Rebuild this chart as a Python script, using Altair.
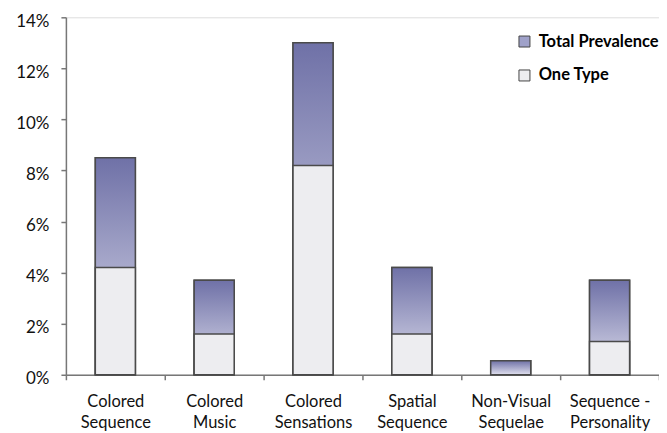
import altair as alt
import pandas as pd

categories = ["Colored\nSequence", "Colored\nMusic", "Colored\nSensations",
              "Spatial\nSequence", "Non-Visual\nSequelae", "Sequence -\nPersonality"]
total_prevalence = [0.085, 0.037, 0.130, 0.042, 0.0055, 0.037]
one_type = [0.042, 0.016, 0.082, 0.016, 0.0, 0.013]
series_names = ["Total Prevalence", "One Type"]
y_ticks = [0, 0.02, 0.04, 0.06, 0.08, 0.10, 0.12, 0.14]

df_total = pd.DataFrame({"cat": categories, "value": total_prevalence, "series": series_names[0]})
df_one = pd.DataFrame({"cat": categories, "value": one_type, "series": series_names[1]})
df_one = df_one[df_one["value"] > 0]

FONT = "Lato"

x_enc = alt.X(
    "cat:N", sort=categories,
    scale=alt.Scale(paddingInner=0, paddingOuter=0),
    axis=alt.Axis(title=None, labelAngle=0, tickBand="extent",
                  labelExpr="split(datum.label, '\\n')",
                  labelFontSize=16.5, labelLineHeight=21, labelPadding=14,
                  labelColor="#111", labelFont=FONT,
                  domainColor="#777", domainWidth=1.5,
                  tickColor="#777", tickWidth=1.5, tickSize=5),
)
y_enc = alt.Y(
    "value:Q",
    scale=alt.Scale(domain=[0, 0.14], nice=False),
    axis=alt.Axis(title=None, values=y_ticks, format=".0%", grid=False,
                  labelFontSize=17, labelPadding=12, labelOffset=4,
                  labelColor="#111", labelFont=FONT,
                  domainColor="#777", domainWidth=1.5,
                  tickColor="#777", tickWidth=1.5, tickSize=5),
)

color_enc = alt.Color(
    "series:N",
    scale=alt.Scale(domain=series_names, range=["#9FA1C9", "#EDEDF0"]),
    legend=alt.Legend(title=None, orient="none", legendX=451, legendY=16,
                      labelFontSize=16.5, labelFontWeight="bold", labelFont=FONT,
                      labelColor="#000", symbolType="square", symbolSize=121,
                      symbolStrokeColor="#444", symbolStrokeWidth=1,
                      rowPadding=17, labelOffset=6),
)

bar_w = alt.RelativeBandSize(0.405)

base_total = alt.Chart(df_total).mark_bar(
    width=bar_w, stroke="#4a4a4a", strokeWidth=1.5
).encode(x=x_enc, y=y_enc, color=color_enc)

gradient = alt.Gradient(
    gradient="linear",
    stops=[alt.GradientStop(color="#6F71A7", offset=0),
           alt.GradientStop(color="#E0E0EE", offset=1)],
    x1=0, x2=0, y1=0, y2=1,
)
grad_total = alt.Chart(df_total).mark_bar(
    width=bar_w, fill=gradient, stroke="#4a4a4a", strokeWidth=1.5
).encode(x=x_enc, y=y_enc)

one_bars = alt.Chart(df_one).mark_bar(
    width=bar_w, stroke="#4a4a4a", strokeWidth=1.5
).encode(x=x_enc, y=y_enc, color=color_enc)

chart = alt.layer(base_total, grad_total, one_bars).properties(
    width=594, height=358,
    padding={"left": 58, "top": 9, "right": 0, "bottom": 58},
    autosize="none",
).configure_view(stroke=None).configure(font=FONT)

chart.save("out.html", embed_options={"renderer": "svg", "actions": False})
